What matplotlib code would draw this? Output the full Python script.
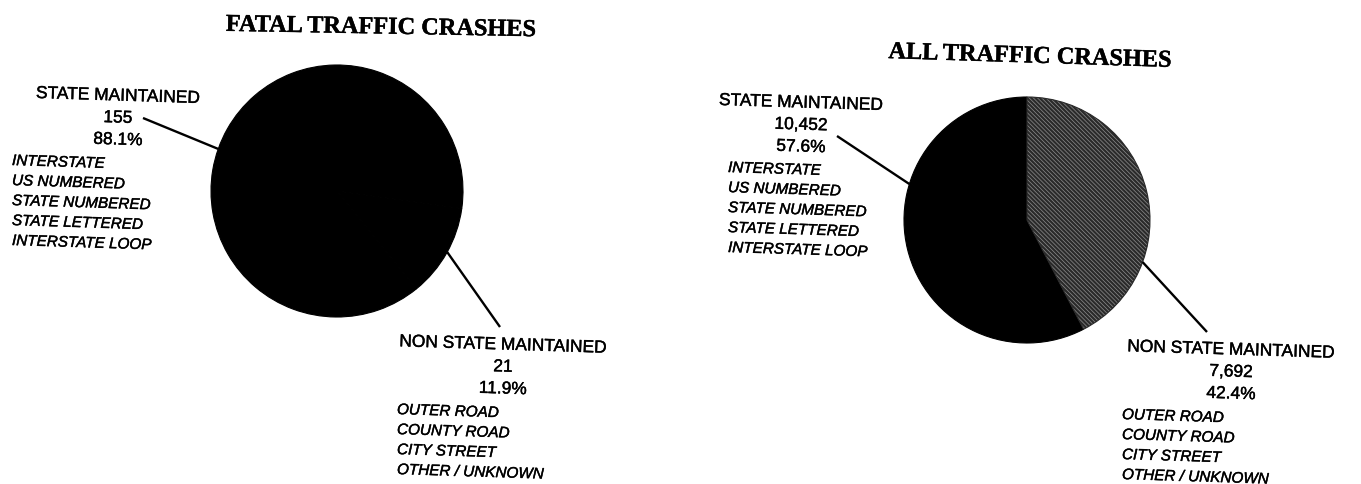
import numpy as np
import matplotlib
matplotlib.use('Agg')
import matplotlib.pyplot as plt
import matplotlib.patheffects as pe

# crash counts by road system
categories = ['STATE MAINTAINED', 'NON STATE MAINTAINED']
fatal_counts = [155, 21]
fatal_pct = [88.1, 11.9]
all_counts = [10452, 7692]
all_pct = [57.6, 42.4]
state_roads = ['INTERSTATE', 'US NUMBERED', 'STATE NUMBERED',
               'STATE LETTERED', 'INTERSTATE LOOP']
non_state_roads = ['OUTER ROAD', 'COUNTY ROAD', 'CITY STREET', 'OTHER / UNKNOWN']

W, H = 1361, 484
SKEW = -1.8
SANS = 'Liberation Sans'
INK = [pe.withStroke(linewidth=0.3, foreground='black')]

plt.rcParams['hatch.linewidth'] = 1.6


def Y(y):
    return H - y


def rim(center, radius, angle):
    a = np.deg2rad(angle)
    return center[0] + radius * np.cos(a), center[1] + radius * np.sin(a)


def label_block(ax, cx, top, left, title, count, pct, roads):
    kw = dict(family=SANS, ha='center', va='center', rotation=SKEW,
              rotation_mode='anchor', path_effects=INK)
    ax.text(cx, Y(top), title, fontsize=12.5, **kw)
    ax.text(cx, Y(top + 22), f'{count:,}', fontsize=12.5, **kw)
    ax.text(cx, Y(top + 44), f'{pct}%', fontsize=12.5, **kw)
    kw['ha'] = 'left'
    for i, road in enumerate(roads):
        ax.text(left, Y(top + 65 + i * 20), road, style='italic',
                fontsize=11, **kw)


fig = plt.figure(figsize=(W / 100, H / 100), dpi=100)
ax = fig.add_axes([0, 0, 1, 1])

# fatal crashes pie
c1, r1 = (337, Y(191)), 126
ax.pie(fatal_counts, colors=['black', 'black'], startangle=-8,
       center=c1, radius=r1,
       wedgeprops=dict(edgecolor='black', linewidth=0.8))

# all crashes pie, non state slice hatched
c2, r2 = (1027, Y(220)), 123
wedges, _ = ax.pie(all_counts, colors=['black', '#8c8c8c'], startangle=90,
                   center=c2, radius=r2,
                   wedgeprops=dict(edgecolor='black', linewidth=0.8))
wedges[1].set_hatch('\\' * 8)
wedges[1].set_edgecolor('#2a2a2a')

# leader lines
leaders = [(c1, r1, 160.5, (143, 118)), (c1, r1, -29, (500, 327)),
           (c2, r2, 163, (837, 136)), (c2, r2, -20, (1207, 332))]
for c, r, ang, end in leaders:
    x0, y0 = rim(c, r, ang)
    ax.plot([x0, end[0]], [y0, Y(end[1])], color='black', lw=1.7,
            solid_capstyle='butt')

title_kw = dict(family='Liberation Serif', weight='bold', fontsize=17.5,
                ha='center', va='center', rotation_mode='anchor',
                path_effects=INK)
ax.text(381, Y(28), 'FATAL TRAFFIC CRASHES', rotation=-1.0, **title_kw)
ax.text(1030, Y(57), 'ALL TRAFFIC CRASHES', rotation=-1.8, **title_kw)

label_block(ax, 118, 96, 12, categories[0], fatal_counts[0], fatal_pct[0], state_roads)
label_block(ax, 503, 345, 397, categories[1], fatal_counts[1], fatal_pct[1], non_state_roads)
label_block(ax, 801, 103, 728, categories[0], all_counts[0], all_pct[0], state_roads)
label_block(ax, 1231, 350, 1122, categories[1], all_counts[1], all_pct[1], non_state_roads)

ax.set_xlim(0, W)
ax.set_ylim(0, H)
ax.set_aspect('equal')
ax.set_axis_off()

fig.savefig('out.png', dpi=100, facecolor='white')
